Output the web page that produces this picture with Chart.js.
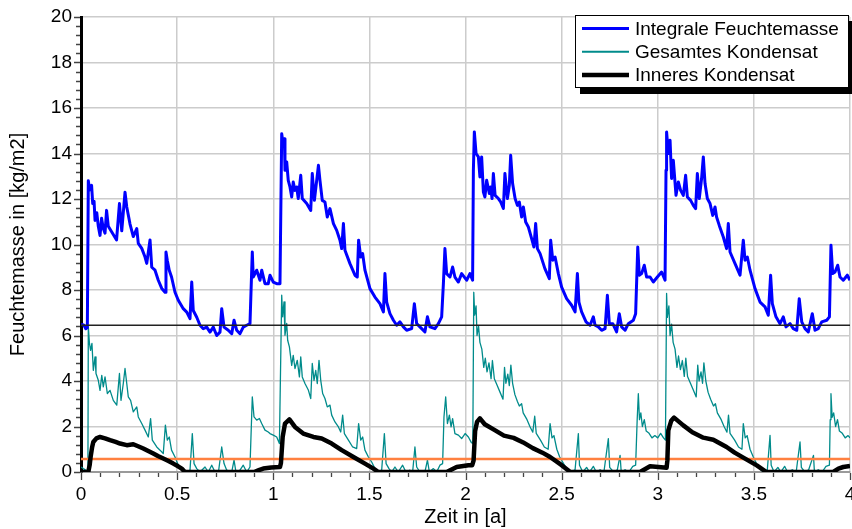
<!DOCTYPE html>
<html><head><meta charset="utf-8">
<script src="https://cdn.jsdelivr.net/npm/chart.js@4"></script>
<style>html,body{margin:0;padding:0;background:#fff}#w{width:852px;height:529px;position:relative}</style>
</head><body><div id="w"><canvas id="c"></canvas></div>
<script>
// ---- Data (time in years, values in kg/m2) ----
const integraleFeuchtemasse = [
[0,6.5],[0.015,6.45],[0.025,6.3],[0.033,6.35],[0.038,12.8],[0.045,12.4],[0.055,12.6],[0.061,11.8],[0.068,11.9],[0.073,11.06],[0.082,11.4],[0.09,10.8],[0.099,10.4],[0.107,11.15],[0.116,10.7],[0.125,10.5],[0.133,11.5],[0.142,10.8],[0.16,10.55],[0.185,10.2],[0.2,11.8],[0.212,10.6],[0.229,12.3],[0.238,11.65],[0.255,10.9],[0.272,10.35],[0.29,10.7],[0.298,10.05],[0.316,9.83],[0.333,9.45],[0.342,9.17],[0.359,10.2],[0.368,9.0],[0.385,8.87],[0.402,8.43],[0.42,8.07],[0.437,7.9],[0.442,9.67],[0.449,9.3],[0.459,8.87],[0.471,8.57],[0.489,7.9],[0.506,7.55],[0.532,7.18],[0.55,7.03],[0.567,6.74],[0.576,8.35],[0.584,7.1],[0.602,6.8],[0.619,6.45],[0.636,6.3],[0.654,6.37],[0.671,6.15],[0.688,6.37],[0.706,6.0],[0.723,6.15],[0.732,7.18],[0.744,6.37],[0.766,6.23],[0.784,6.08],[0.796,6.67],[0.81,6.23],[0.827,6.08],[0.844,6.37],[0.862,6.45],[0.879,6.52],[0.891,9.67],[0.896,8.57],[0.914,8.87],[0.931,8.43],[0.94,8.87],[0.957,8.28],[0.974,8.28],[0.983,8.65],[1.0,8.35],[1.018,8.28],[1.035,8.28],
[1.044,14.87],[1.052,14.36],[1.058,14.65],[1.061,13.26],[1.07,13.63],[1.078,12.82],[1.087,12.53],[1.096,12.09],[1.104,12.75],[1.113,12.38],[1.122,12.53],[1.13,12.02],[1.143,13.04],[1.151,12.02],[1.174,11.8],[1.195,11.5],[1.203,13.12],[1.214,11.94],[1.226,12.82],[1.235,13.48],[1.243,12.82],[1.255,11.94],[1.269,11.87],[1.281,11.21],[1.295,11.58],[1.313,10.92],[1.33,10.62],[1.347,10.19],[1.356,9.82],[1.365,10.92],[1.373,9.75],[1.399,9.16],[1.425,8.65],[1.437,8.57],[1.444,10.19],[1.455,9.45],[1.465,9.6],[1.477,8.87],[1.503,8.06],[1.529,7.69],[1.555,7.4],[1.573,7.04],[1.581,8.72],[1.59,7.47],[1.607,6.96],[1.625,6.67],[1.642,6.45],[1.659,6.6],[1.677,6.38],[1.694,6.23],[1.72,6.3],[1.734,7.4],[1.746,6.52],[1.772,6.3],[1.789,6.16],[1.802,6.82],[1.815,6.38],[1.841,6.3],[1.859,6.52],[1.876,6.82],[1.885,8.28],[1.893,9.82],[1.902,8.72],[1.919,8.57],[1.933,9.01],[1.945,8.57],[1.963,8.35],[1.98,8.72],[2.006,8.43],[2.023,8.72],[2.037,8.43],
[2.041,13.26],[2.046,14.95],[2.055,14.0],[2.067,13.85],[2.075,12.97],[2.084,13.85],[2.093,12.31],[2.101,12.09],[2.11,12.82],[2.124,12.24],[2.131,12.53],[2.138,12.02],[2.145,13.12],[2.154,12.16],[2.171,12.02],[2.183,11.87],[2.197,11.58],[2.205,13.12],[2.218,12.02],[2.228,12.6],[2.235,13.92],[2.245,12.68],[2.258,12.02],[2.27,11.72],[2.28,11.87],[2.292,11.21],[2.301,11.65],[2.313,10.99],[2.327,10.77],[2.344,10.26],[2.356,9.89],[2.365,10.92],[2.374,9.82],[2.388,9.6],[2.413,8.94],[2.436,8.5],[2.443,10.19],[2.454,9.31],[2.466,9.45],[2.483,8.72],[2.5,8.13],[2.526,7.62],[2.552,7.33],[2.57,7.04],[2.582,8.72],[2.59,7.47],[2.604,7.04],[2.627,6.6],[2.648,6.45],[2.665,6.82],[2.674,6.45],[2.691,6.38],[2.708,6.23],[2.726,6.3],[2.738,7.77],[2.748,6.52],[2.766,6.52],[2.786,6.16],[2.8,6.96],[2.812,6.38],[2.83,6.23],[2.847,6.52],[2.873,6.67],[2.885,6.96],[2.896,9.89],[2.904,8.65],[2.916,8.72],[2.93,9.09],[2.942,8.57],[2.96,8.57],[2.977,8.35],[2.998,8.57],[3.02,8.79],[3.038,8.43],
[3.043,13.26],[3.046,14.95],[3.055,14.0],[3.064,14.58],[3.072,12.9],[3.081,13.7],[3.095,12.16],[3.107,12.75],[3.119,12.38],[3.133,12.16],[3.145,13.04],[3.154,12.09],[3.171,11.94],[3.185,11.72],[3.197,11.58],[3.206,13.12],[3.216,12.02],[3.228,12.9],[3.237,13.85],[3.246,12.68],[3.258,12.02],[3.272,11.8],[3.286,11.28],[3.298,11.65],[3.306,11.21],[3.32,10.84],[3.341,10.33],[3.358,9.82],[3.367,10.92],[3.376,9.67],[3.402,9.16],[3.428,8.65],[3.445,10.19],[3.454,9.31],[3.466,9.45],[3.48,8.87],[3.506,8.06],[3.532,7.47],[3.558,7.26],[3.575,6.89],[3.587,8.65],[3.596,7.4],[3.615,6.82],[3.636,6.52],[3.653,6.82],[3.667,6.38],[3.688,6.52],[3.705,6.3],[3.723,6.23],[3.736,7.62],[3.749,6.6],[3.766,6.3],[3.783,6.16],[3.804,6.96],[3.818,6.23],[3.835,6.3],[3.853,6.6],[3.879,6.67],[3.893,6.82],[3.901,9.97],[3.91,8.72],[3.922,8.79],[3.936,9.09],[3.948,8.57],[3.965,8.43],[3.986,8.65],[4.0,8.43]
];
const gesamtesKondensat = [
[0,0.22],[0.012,0.15],[0.03,0.05],[0.036,0.0],[0.038,6.38],[0.044,5.65],[0.05,5.35],[0.057,5.65],[0.064,4.47],[0.073,5.06],[0.078,4.33],[0.09,4.03],[0.099,3.59],[0.108,4.25],[0.116,3.74],[0.125,4.18],[0.137,3.45],[0.151,3.59],[0.168,3.15],[0.186,2.94],[0.2,4.33],[0.208,3.15],[0.22,3.89],[0.229,4.55],[0.238,3.89],[0.246,3.3],[0.258,3.15],[0.272,2.64],[0.29,2.86],[0.298,2.42],[0.316,2.13],[0.333,1.84],[0.35,1.54],[0.362,2.35],[0.371,1.4],[0.394,1.1],[0.411,0.96],[0.428,0.81],[0.439,2.06],[0.449,1.4],[0.459,1.54],[0.471,0.96],[0.489,0.66],[0.506,0.3],[0.524,0.08],[0.55,0.0],[0.567,0.08],[0.579,1.69],[0.588,0.37],[0.602,0.15],[0.619,0.0],[0.645,0.22],[0.662,0.0],[0.68,0.3],[0.697,0.0],[0.715,0.0],[0.732,1.1],[0.744,0.37],[0.758,0.08],[0.784,0.0],[0.796,0.52],[0.806,0.0],[0.827,0.08],[0.844,0.3],[0.862,0.0],[0.879,0.22],[0.891,3.3],[0.9,2.42],[0.914,2.28],[0.928,2.35],[0.94,2.13],[0.957,1.84],[0.974,1.76],[0.983,1.69],[1.0,1.62],[1.018,1.54],[1.032,1.25],
[1.044,7.77],[1.049,6.82],[1.056,7.48],[1.061,6.01],[1.07,6.53],[1.075,5.79],[1.084,5.5],[1.096,4.69],[1.104,5.13],[1.113,4.55],[1.125,4.91],[1.136,4.18],[1.143,5.06],[1.151,4.18],[1.165,3.89],[1.183,3.59],[1.195,3.23],[1.203,4.77],[1.212,4.03],[1.221,4.47],[1.229,3.89],[1.238,4.91],[1.247,4.03],[1.257,3.45],[1.269,3.23],[1.281,2.86],[1.295,2.94],[1.304,2.5],[1.321,2.2],[1.339,1.98],[1.351,1.76],[1.361,2.5],[1.37,1.69],[1.391,1.4],[1.413,1.1],[1.434,1.03],[1.444,2.13],[1.455,1.4],[1.465,1.54],[1.477,0.96],[1.495,0.66],[1.512,0.44],[1.529,0.15],[1.547,0.0],[1.564,0.08],[1.578,1.69],[1.587,0.37],[1.602,0.15],[1.616,0.0],[1.633,0.22],[1.65,0.0],[1.673,0.3],[1.69,0.0],[1.711,0.08],[1.725,0.0],[1.737,1.1],[1.746,0.22],[1.763,0.0],[1.789,0.0],[1.802,0.52],[1.812,0.0],[1.833,0.15],[1.85,0.0],[1.867,0.3],[1.881,0.37],[1.888,2.42],[1.897,3.3],[1.906,2.13],[1.916,2.5],[1.925,1.98],[1.933,2.35],[1.945,1.69],[1.963,1.62],[1.98,1.47],[1.998,1.69],[2.015,1.54],[2.03,1.3],[2.038,1.25],
[2.043,7.9],[2.048,6.9],[2.055,7.3],[2.06,6.0],[2.068,6.4],[2.075,5.7],[2.085,5.4],[2.095,4.6],[2.103,5.0],[2.112,4.4],[2.122,4.8],[2.133,4.1],[2.14,4.9],[2.15,4.1],[2.165,3.8],[2.18,3.5],[2.195,3.2],[2.203,4.6],[2.21,3.9],[2.22,4.3],[2.228,3.8],[2.236,4.7],[2.245,3.9],[2.257,3.4],[2.27,3.1],[2.28,2.9],[2.292,3.0],[2.3,2.6],[2.32,2.3],[2.335,2.0],[2.35,1.75],[2.36,2.45],[2.368,1.7],[2.39,1.4],[2.41,1.1],[2.43,1.0],[2.44,2.13],[2.45,1.5],[2.46,1.6],[2.475,1.0],[2.49,0.66],[2.51,0.37],[2.53,0.1],[2.545,0.0],[2.57,0.1],[2.587,1.69],[2.593,0.3],[2.61,0.0],[2.63,0.2],[2.645,0.0],[2.665,0.25],[2.68,0.0],[2.7,0.1],[2.72,0.0],[2.743,1.47],[2.75,0.2],[2.77,0.0],[2.79,0.1],[2.804,0.73],[2.81,0.0],[2.83,0.1],[2.85,0.0],[2.87,0.25],[2.885,0.3],[2.893,2.3],[2.899,3.44],[2.905,2.3],[2.912,2.6],[2.92,2.0],[2.93,2.3],[2.94,1.8],[2.955,1.7],[2.97,1.5],[2.985,1.6],[3.0,1.5],[3.015,1.7],[3.03,1.5],[3.04,1.4],
[3.046,7.85],[3.05,6.8],[3.058,7.3],[3.064,6.0],[3.072,6.5],[3.08,5.7],[3.09,5.4],[3.1,4.6],[3.108,5.1],[3.118,4.5],[3.128,4.9],[3.138,4.2],[3.146,5.0],[3.155,4.2],[3.17,3.9],[3.185,3.6],[3.2,3.3],[3.208,4.7],[3.215,4.0],[3.225,4.4],[3.233,3.9],[3.24,4.8],[3.25,4.0],[3.262,3.5],[3.275,3.2],[3.29,2.9],[3.3,3.0],[3.31,2.6],[3.33,2.3],[3.345,2.0],[3.36,1.75],[3.368,2.5],[3.376,1.7],[3.4,1.4],[3.42,1.1],[3.438,1.0],[3.445,2.13],[3.455,1.5],[3.465,1.6],[3.48,1.0],[3.497,0.66],[3.515,0.35],[3.535,0.1],[3.55,0.0],[3.57,0.1],[3.584,1.61],[3.59,0.3],[3.605,0.0],[3.625,0.2],[3.64,0.0],[3.66,0.25],[3.675,0.0],[3.7,0.1],[3.72,0.0],[3.74,1.32],[3.747,0.2],[3.765,0.0],[3.785,0.1],[3.81,0.73],[3.815,0.0],[3.835,0.1],[3.855,0.0],[3.875,0.25],[3.893,0.3],[3.897,2.3],[3.901,3.44],[3.907,2.4],[3.915,2.6],[3.925,2.0],[3.935,2.3],[3.945,1.8],[3.96,1.7],[3.975,1.5],[3.99,1.6],[4.0,1.5]
];
const inneresKondensat = [
[0,0.0],[0.038,0.0],[0.045,0.3],[0.05,0.66],[0.058,1.1],[0.064,1.32],[0.08,1.48],[0.099,1.54],[0.125,1.48],[0.151,1.4],[0.18,1.32],[0.203,1.25],[0.238,1.18],[0.272,1.22],[0.3,1.12],[0.324,1.03],[0.35,0.92],[0.376,0.81],[0.4,0.7],[0.428,0.59],[0.455,0.48],[0.48,0.37],[0.505,0.25],[0.524,0.15],[0.541,0.0],[0.9,0.0],[0.925,0.08],[0.948,0.15],[0.99,0.2],[1.035,0.22],[1.04,0.4],[1.049,1.54],[1.061,2.13],[1.084,2.31],[1.113,1.98],[1.156,1.69],[1.209,1.54],[1.252,1.47],[1.304,1.25],[1.356,0.96],[1.417,0.66],[1.477,0.37],[1.521,0.15],[1.547,0.0],[1.902,0.0],[1.954,0.22],[2.015,0.3],[2.035,0.3],[2.042,0.5],[2.05,1.8],[2.06,2.2],[2.075,2.36],[2.1,2.1],[2.15,1.85],[2.2,1.6],[2.25,1.5],[2.3,1.3],[2.35,1.05],[2.4,0.85],[2.44,0.66],[2.5,0.3],[2.545,0.0],[2.908,0.0],[2.96,0.25],[3.046,0.19],[3.05,0.5],[3.055,1.83],[3.07,2.25],[3.085,2.39],[3.133,2.05],[3.18,1.75],[3.237,1.51],[3.289,1.42],[3.358,1.1],[3.4,0.85],[3.445,0.63],[3.515,0.29],[3.558,0.04],[3.565,0.0],[3.913,0.0],[3.94,0.15],[3.965,0.22],[4.0,0.26]
];
const grenzwertSchwarz = 6.45;
const grenzwertOrange = 0.57;
const xTickValues = [0, 0.5, 1, 1.5, 2, 2.5, 3, 3.5, 4];
const yTickValues = [0, 2, 4, 6, 8, 10, 12, 14, 16, 18, 20];
const seriesLabels = ['Integrale Feuchtemasse', 'Gesamtes Kondensat', 'Inneres Kondensat'];
const seriesColors = ['#0000ff', '#008b8b', '#000000'];
const xRange = [0, 4];

// ---- Chart ----
const FONT = 'Liberation Sans, Arial, sans-serif';
const toXY = arr => arr.map(p => ({x: p[0], y: p[1]}));
const hLine = v => xRange.map(x => ({x, y: v}));

const minorTicks = {
  id: 'minorTicks',
  afterDraw(chart) {
    const ctx = chart.ctx, xs = chart.scales.x, ys = chart.scales.y;
    const ca = chart.chartArea;
    ctx.save();
    ctx.strokeStyle = '#444';
    ctx.lineWidth = 1.3;
    ctx.beginPath();
    const yMaj = yTickValues[1] - yTickValues[0];
    for (let i = 0; i <= 50; i++) {
      const v = i * yMaj / 5, py = Math.round(ys.getPixelForValue(v)) + 0.5;
      const len = (i % 5 === 0) ? 6 : 4;
      ctx.moveTo(ca.left - 1, py); ctx.lineTo(ca.left - 1 - len, py);
    }
    const xMaj = xTickValues[1] - xTickValues[0];
    for (let i = 0; i <= 40; i++) {
      const v = i * xMaj / 5, px = Math.round(xs.getPixelForValue(v)) + 0.5;
      const len = (i % 5 === 0) ? 7 : 4;
      ctx.moveTo(px, ca.bottom + 1); ctx.lineTo(px, ca.bottom + 1 + len);
    }
    ctx.stroke();
    ctx.restore();
  }
};

const boxLegend = {
  id: 'boxLegend',
  afterDraw(chart) {
    const ctx = chart.ctx;
    const bx = 575, by = 15, bw = 274, bh = 73;
    ctx.save();
    ctx.fillStyle = '#000';
    ctx.fillRect(bx + 5, by + 6, bw, bh);
    ctx.fillStyle = '#fff';
    ctx.fillRect(bx, by, bw, bh);
    ctx.strokeStyle = '#000';
    ctx.lineWidth = 1;
    ctx.strokeRect(bx + 0.5, by + 0.5, bw - 1, bh - 1);
    ctx.font = '19px ' + FONT;
    ctx.textBaseline = 'middle';
    ctx.textAlign = 'left';
    const widths = [3, 2, 4.5];
    seriesLabels.forEach((lab, i) => {
      const y = 28.5 + i * 23.3;
      ctx.strokeStyle = seriesColors[i];
      ctx.lineWidth = widths[i];
      ctx.beginPath(); ctx.moveTo(582, y); ctx.lineTo(629, y); ctx.stroke();
      ctx.fillStyle = '#000';
      ctx.fillText(lab, 635, y + 1);
    });
    ctx.restore();
  }
};

new Chart(document.getElementById('c'), {
  type: 'line',
  data: {
    datasets: [
      {label: seriesLabels[2], data: toXY(inneresKondensat), borderColor: seriesColors[2], borderWidth: 4.5, order: 0},
      {label: 'Grenze 1', data: hLine(grenzwertSchwarz), borderColor: '#222', borderWidth: 1.5, order: 1},
      {label: 'Grenze 2', data: hLine(grenzwertOrange), borderColor: '#ff8040', borderWidth: 2.5, order: 2},
      {label: seriesLabels[0], data: toXY(integraleFeuchtemasse), borderColor: seriesColors[0], borderWidth: 3, order: 3},
      {label: seriesLabels[1], data: toXY(gesamtesKondensat), borderColor: seriesColors[1], borderWidth: 1.3, order: 4}
    ]
  },
  options: {
    responsive: true,
    maintainAspectRatio: false,
    animation: false,
    devicePixelRatio: 1,
    layout: {padding: {top: 17, right: 2, left: 0, bottom: 0}},
    elements: {point: {radius: 0, hoverRadius: 0}, line: {tension: 0, borderJoinStyle: 'round', fill: false}},
    plugins: {legend: {display: false}, tooltip: {enabled: false}},
    scales: {
      x: {
        type: 'linear', min: xRange[0], max: xRange[1],
        afterBuildTicks: s => { s.ticks = xTickValues.map(v => ({value: v})); },
        afterFit: s => { s.height = 57; s.paddingLeft = 0; s.paddingRight = 0; },
        ticks: {color: '#000', font: {family: FONT, size: 19}, padding: 11, maxRotation: 0, autoSkip: false, callback: v => String(v)},
        grid: {color: '#cccccc', lineWidth: 1.5, drawTicks: false},
        border: {color: '#9a9a9a', width: 2},
        title: {display: true, text: 'Zeit in [a]', color: '#000', font: {family: FONT, size: 20}, padding: {top: 0, bottom: 0}}
      },
      y: {
        type: 'linear', min: 0, max: 20,
        afterBuildTicks: s => { s.ticks = yTickValues.map(v => ({value: v})); },
        afterFit: s => { s.width = 81; s.paddingTop = 0; s.paddingBottom = 0; },
        ticks: {color: '#000', font: {family: FONT, size: 19}, padding: 9, callback: v => String(v)},
        grid: {color: '#cccccc', lineWidth: 1.5, drawTicks: false},
        border: {color: '#000', width: 3},
        title: {display: true, text: 'Feuchtemasse in [kg/m2]', color: '#000', font: {family: FONT, size: 20}, padding: {top: 6, bottom: 0}}
      }
    }
  },
  plugins: [minorTicks, boxLegend]
});
</script>
</body></html>
